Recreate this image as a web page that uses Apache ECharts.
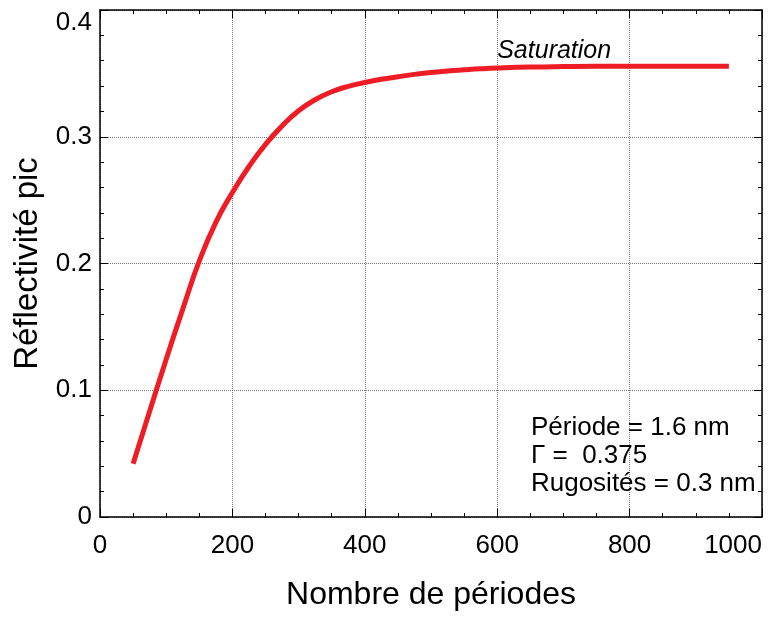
<!DOCTYPE html>
<html>
<head>
<meta charset="utf-8">
<script src="https://cdn.jsdelivr.net/npm/echarts@6/dist/echarts.min.js"></script>
<style>html,body{margin:0;padding:0;background:#fff}#c{width:770px;height:619px}</style>
</head>
<body>
<div id="c"></div>
<script>
// Data
const periods = [50, 75, 100, 125, 150, 175, 200, 225, 250, 275, 300, 325, 350, 375, 400, 425, 450, 475, 500, 525, 550, 575, 600, 650, 700, 750, 800, 850, 900, 950];
const reflectivity = [0.042, 0.0835, 0.1245, 0.164, 0.2020, 0.2325, 0.2560, 0.2765, 0.2940, 0.3085, 0.3205, 0.3292, 0.3355, 0.3398, 0.3428, 0.3453, 0.3473, 0.3492, 0.3507, 0.3519, 0.3528, 0.3536, 0.3542, 0.3550, 0.3554, 0.3556, 0.3556, 0.3556, 0.3556, 0.3556];
const xTicks = [0, 200, 400, 600, 800, 1000];
const yTicks = [0, 0.1, 0.2, 0.3, 0.4];
const annotationLines = ['Période = 1.6 nm', 'Γ =  0.375', 'Rugosités = 0.3 nm'];
const saturationLabel = 'Saturation';

const FONT = '"Liberation Sans", Arial, sans-serif';
const chart = echarts.init(document.getElementById('c'), null, {renderer: 'canvas'});

function xAxisCfg(show, pos) {
  return {
    type: 'value', position: pos, min: 0, max: 1000, interval: 200,
    axisLine: {show: true, onZero: false, lineStyle: {color: '#000', width: 1.5}},
    axisTick: {show: true, inside: true, length: 8, lineStyle: {color: '#000', width: 1}},
    minorTick: {show: true, splitNumber: 4, length: 4, lineStyle: {color: '#000', width: 1}},
    axisLabel: {show: show, fontFamily: FONT, fontSize: 26, color: '#000', margin: 16,
      alignMaxLabel: 'right',
      formatter: v => xTicks.includes(v) ? String(v) : ''},
    splitLine: {show: show, lineStyle: {color: '#555', width: 0.8, type: [1, 1]}},
    name: show ? 'Nombre de périodes' : '', nameLocation: 'middle', nameGap: 62,
    nameTextStyle: {fontFamily: FONT, fontSize: 32, color: '#000'}
  };
}
function yAxisCfg(show, pos) {
  return {
    type: 'value', position: pos, min: 0, max: 0.4, interval: 0.1,
    axisLine: {show: true, onZero: false, lineStyle: {color: '#000', width: 1.5}},
    axisTick: {show: true, inside: true, length: 8, lineStyle: {color: '#000', width: 1}},
    minorTick: {show: true, splitNumber: 5, length: 4, lineStyle: {color: '#000', width: 1}},
    axisLabel: {show: show, fontFamily: FONT, fontSize: 26, color: '#000', margin: 8,
      verticalAlignMaxLabel: 'top',
      formatter: v => { const t = yTicks.find(k => Math.abs(k - v) < 1e-9); return t === undefined ? '' : (t === 0 ? '0' : t.toFixed(1)); }},
    splitLine: {show: show, lineStyle: {color: '#555', width: 0.8, type: [1, 1]}},
    name: show ? 'Réflectivité pic' : '', nameLocation: 'middle', nameGap: 56,
    nameTextStyle: {fontFamily: FONT, fontSize: 33, color: '#000'}
  };
}

chart.setOption({
  animation: false,
  backgroundColor: '#fff',
  grid: {left: 100, right: 8, top: 10, bottom: 102, containLabel: false, outerBoundsMode: 'none'},
  xAxis: [xAxisCfg(true, 'bottom'), xAxisCfg(false, 'top')],
  yAxis: [yAxisCfg(true, 'left'), yAxisCfg(false, 'right')],
  series: [{
    type: 'line',
    data: periods.map((p, i) => [p, reflectivity[i]]),
    smooth: 0.5,
    showSymbol: false,
    lineStyle: {color: '#ee1c24', width: 5, cap: 'butt'},
    markPoint: {
      symbol: 'rect', symbolSize: 0, silent: true,
      data: [
        {coord: [600, 0.368], label: {show: true, formatter: saturationLabel, position: 'right', distance: 0,
          fontFamily: FONT, fontStyle: 'italic', fontSize: 25, color: '#000'}},
        {coord: [651, 0.0485], label: {show: true, formatter: annotationLines.join('\n'), position: 'right', distance: 0,
          fontFamily: FONT, fontSize: 26, lineHeight: 28, color: '#000'}}
      ]
    }
  }]
});
</script>
</body>
</html>
